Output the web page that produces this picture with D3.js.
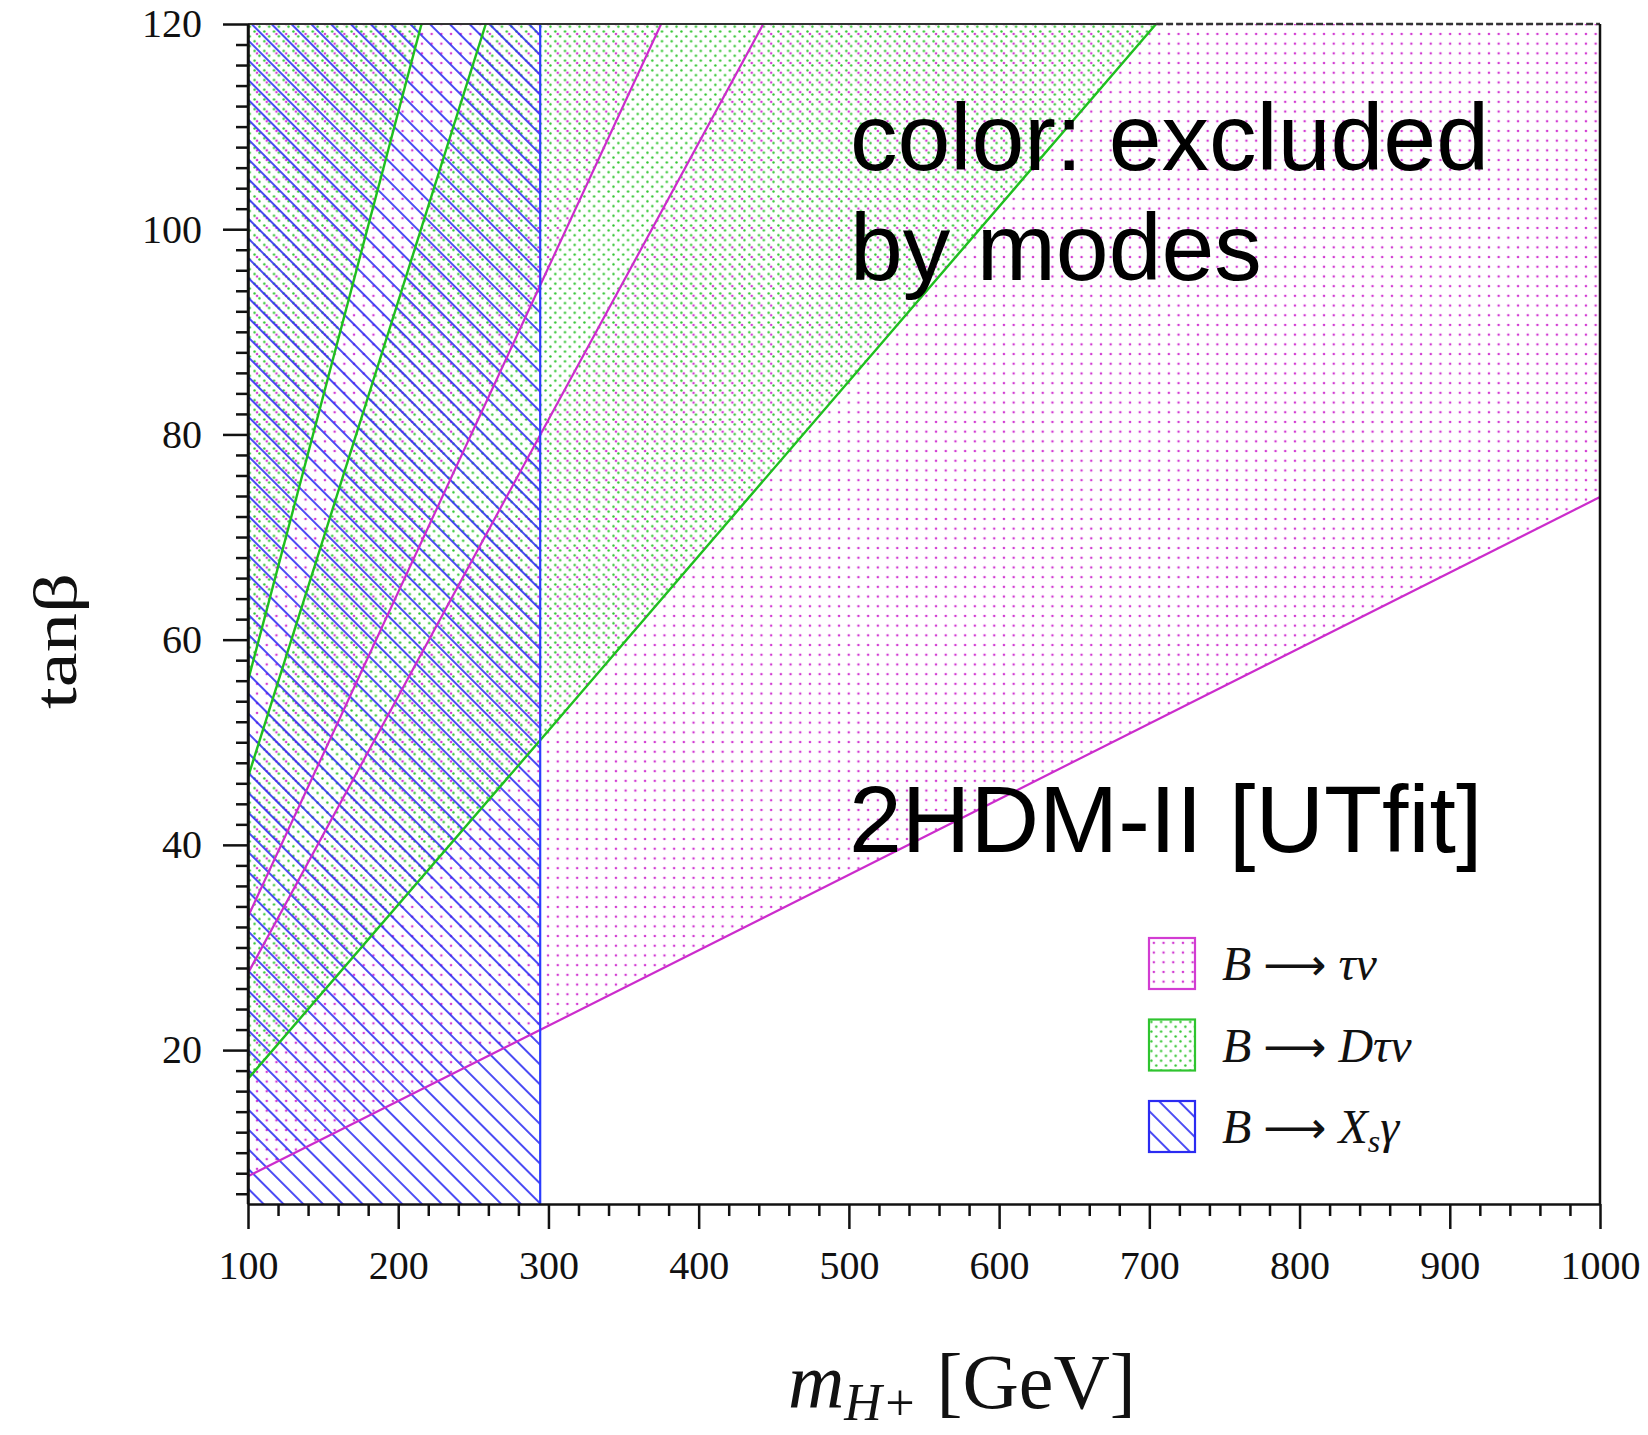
<!DOCTYPE html>
<html>
<head>
<meta charset="utf-8">
<script src="https://cdn.jsdelivr.net/npm/d3@7"></script>
<style>
  body { margin: 0; background: #fff; }
</style>
</head>
<body>
<script>
  // boundaries, points are [mH+ (GeV), tanBeta]
  var xsgLimit = 294.5;                                   // B -> Xs gamma excludes mH+ below this
  var tauNuLow = [[100, 7.7], [295, 22.0], [1000, 73.9]]; // B -> tau nu, excluded above
  var tauNuBandLow = [[100, 27.5], [443, 120]];           // allowed band inside it
  var tauNuBandHigh = [[100, 33.0], [375, 120]];
  var dTauNuLow = [[100, 17.2], [294.5, 50.2], [704.5, 120]]; // B -> D tau nu, excluded above
  var dTauNuBandLow = [[100, 46.6], [258.3, 120]];
  var dTauNuBandHigh = [[100, 56.0], [215.5, 120]];

  var xDomain = [100, 1000];
  var yDomain = [5, 120];
  var xTicks = [100, 200, 300, 400, 500, 600, 700, 800, 900, 1000];
  var yTicks = [20, 40, 60, 80, 100, 120];
  var xMinorStep = 20, yMinorStep = 2;

  var legendNames = ["tauNu", "dTauNu", "xsg"];
  var legendColors = ["#d23cd2", "#2fc42f", "#2b2bf2"];
  var legendLabels = [
    [["B", "i"], ["\u27f6", "arrow"], ["\u03c4\u03bd", "after"]],
    [["B", "i"], ["\u27f6", "arrow"], ["D\u03c4\u03bd", "after"]],
    [["B", "i"], ["\u27f6", "arrow"], ["X", "after"], ["s", "sub"], ["\u03b3", "up"]]
  ];

  var width = 1648, height = 1435;

  var svg = d3.select("body").append("svg")
    .attr("width", width)
    .attr("height", height);

  var x = d3.scaleLinear().domain(xDomain).range([248, 1600]);
  var y = d3.scaleLinear().domain(yDomain).range([1204, 24]);

  var defs = svg.append("defs");

  defs.append("clipPath").attr("id", "plot")
    .append("rect")
    .attr("x", x(xDomain[0])).attr("y", y(yDomain[1]))
    .attr("width", x(xDomain[1]) - x(xDomain[0]))
    .attr("height", y(yDomain[0]) - y(yDomain[1]));

  // fill patterns
  var pm = defs.append("pattern").attr("id", "pat-tauNu")
    .attr("patternUnits", "userSpaceOnUse").attr("width", 9.7).attr("height", 9.7);
  pm.append("circle").attr("cx", 4.85).attr("cy", 4.85).attr("r", 1.3).attr("fill", "#d23cd2");

  var pg = defs.append("pattern").attr("id", "pat-dTauNu")
    .attr("patternUnits", "userSpaceOnUse").attr("width", 9.7).attr("height", 9.7);
  pg.append("circle").attr("cx", 2.4).attr("cy", 2.4).attr("r", 1.2).attr("fill", "#2fc42f");
  pg.append("circle").attr("cx", 7.25).attr("cy", 7.25).attr("r", 1.2).attr("fill", "#2fc42f");

  var pb = defs.append("pattern").attr("id", "pat-xsg")
    .attr("patternUnits", "userSpaceOnUse").attr("width", 14).attr("height", 14)
    .attr("patternTransform", "rotate(-45)");
  pb.append("line").attr("x1", 7).attr("y1", -1).attr("x2", 7).attr("y2", 15)
    .attr("stroke", "#2b2bf2").attr("stroke-width", 1.7);

  var line = d3.line().x(function(d) { return x(d[0]); }).y(function(d) { return y(d[1]); });

  // excluded regions
  var tauNuPolys = [
    [[100, 120]].concat(tauNuBandHigh),
    tauNuLow.concat([[1000, 120]], tauNuBandLow.slice().reverse())
  ];
  var dTauNuPolys = [
    [[100, 120]].concat(dTauNuBandHigh),
    dTauNuLow.concat(dTauNuBandLow.slice().reverse())
  ];
  var xsgPoly = [[100, 5], [xsgLimit, 5], [xsgLimit, 120], [100, 120]];

  var plot = svg.append("g").attr("clip-path", "url(#plot)");

  plot.selectAll("path.tauNu").data(tauNuPolys).enter().append("path")
    .attr("d", function(d) { return line(d) + "Z"; })
    .attr("fill", "url(#pat-tauNu)");
  plot.selectAll("path.dTauNu").data(dTauNuPolys).enter().append("path")
    .attr("d", function(d) { return line(d) + "Z"; })
    .attr("fill", "url(#pat-dTauNu)");
  plot.append("path").datum(xsgPoly)
    .attr("d", function(d) { return line(d) + "Z"; })
    .attr("fill", "url(#pat-xsg)");

  // boundary lines
  [tauNuLow, tauNuBandLow, tauNuBandHigh].forEach(function(b) {
    plot.append("path").datum(b).attr("d", line)
      .attr("fill", "none").attr("stroke", "#cc2ccc").attr("stroke-width", 2.2);
  });
  [dTauNuLow, dTauNuBandLow, dTauNuBandHigh].forEach(function(b) {
    plot.append("path").datum(b).attr("d", line)
      .attr("fill", "none").attr("stroke", "#1fbf1f").attr("stroke-width", 2.4);
  });
  plot.append("line")
    .attr("x1", x(xsgLimit)).attr("x2", x(xsgLimit))
    .attr("y1", y(yDomain[0])).attr("y2", y(yDomain[1]))
    .attr("stroke", "#2a3cff").attr("stroke-width", 2.2);

  // frame: top and right
  svg.append("line")
    .attr("x1", x(100)).attr("x2", x(dTauNuLow[dTauNuLow.length - 1][0]))
    .attr("y1", y(120)).attr("y2", y(120))
    .attr("stroke", "#333").attr("stroke-width", 2);
  svg.append("line")
    .attr("x1", x(dTauNuLow[dTauNuLow.length - 1][0])).attr("x2", x(1000))
    .attr("y1", y(120)).attr("y2", y(120))
    .attr("stroke", "#333").attr("stroke-width", 2.5).attr("stroke-dasharray", "7,3");
  svg.append("line")
    .attr("x1", x(1000)).attr("x2", x(1000))
    .attr("y1", y(120)).attr("y2", y(5))
    .attr("stroke", "#111").attr("stroke-width", 2.5);

  // axes
  var xMinor = d3.range(xDomain[0], xDomain[1] + 1, xMinorStep).filter(function(v) { return v % 100 !== 0; });
  var yMinor = d3.range(6, 120, yMinorStep).filter(function(v) { return v % 20 !== 0; });

  var gxMinor = svg.append("g").attr("transform", "translate(0," + y(yDomain[0]) + ")")
    .call(d3.axisBottom(x).tickValues(xMinor).tickSize(12).tickFormat(""));
  gxMinor.select(".domain").remove();

  var gx = svg.append("g").attr("transform", "translate(0," + y(yDomain[0]) + ")")
    .call(d3.axisBottom(x).tickValues(xTicks).tickSize(25).tickSizeOuter(0).tickFormat(d3.format("d")));

  var gyMinor = svg.append("g").attr("transform", "translate(" + x(xDomain[0]) + ",0)")
    .call(d3.axisLeft(y).tickValues(yMinor).tickSize(12).tickFormat(""));
  gyMinor.select(".domain").remove();

  var gy = svg.append("g").attr("transform", "translate(" + x(xDomain[0]) + ",0)")
    .call(d3.axisLeft(y).tickValues(yTicks).tickSize(25).tickSizeOuter(0).tickPadding(21));

  [gx, gy, gxMinor, gyMinor].forEach(function(g) {
    g.selectAll("line").attr("stroke", "#111").attr("stroke-width", 2.5);
    g.select(".domain").attr("stroke", "#111").attr("stroke-width", 2.5);
  });
  // left axis runs down to the 100 tick
  svg.append("line")
    .attr("x1", x(100)).attr("x2", x(100)).attr("y1", y(120)).attr("y2", y(5))
    .attr("stroke", "#111").attr("stroke-width", 2.5);

  gx.attr("font-family", "'Liberation Serif', 'Times New Roman', serif").attr("font-size", 40);
  gx.selectAll("text").attr("y", 47).attr("dy", "0.71em").attr("fill", "#111");
  gy.attr("font-family", "'Liberation Serif', 'Times New Roman', serif").attr("font-size", 40);
  gy.selectAll("text").attr("fill", "#111");

  // axis titles
  var xt = svg.append("text")
    .attr("x", 788).attr("y", 1408)
    .attr("font-family", "'Liberation Serif', 'Times New Roman', serif")
    .attr("font-size", 78).attr("fill", "#111");
  xt.append("tspan").attr("font-style", "italic").text("m");
  xt.append("tspan").attr("font-style", "italic").attr("font-size", 52).attr("dy", 12).text("H+");
  xt.append("tspan").attr("dy", -12).text(" [GeV]");

  svg.append("text")
    .attr("transform", "translate(76,641) rotate(-90)")
    .attr("text-anchor", "middle")
    .attr("font-family", "'Liberation Serif', 'Times New Roman', serif")
    .attr("font-size", 62).attr("fill", "#111")
    .attr("textLength", 136).attr("lengthAdjust", "spacingAndGlyphs")
    .text("tan\u03b2");

  // annotations
  var note = svg.append("g")
    .attr("font-family", "'Liberation Sans', Arial, Helvetica, sans-serif")
    .attr("font-size", 95).attr("fill", "#000");
  note.append("text").attr("x", 850).attr("y", 170).text("color: excluded");
  note.append("text").attr("x", 850).attr("y", 280).text("by modes");
  note.append("text").attr("x", 849).attr("y", 852).text("2HDM-II [UTfit]");

  // legend
  var legend = svg.append("g");
  var item = legend.selectAll("g").data(legendNames).enter().append("g")
    .attr("transform", function(d, i) { return "translate(1149," + (938 + i * 81.5) + ")"; });
  item.append("rect")
    .attr("width", 46).attr("height", 51)
    .attr("fill", function(d) { return "url(#pat-" + d + ")"; })
    .attr("stroke", function(d, i) { return legendColors[i]; })
    .attr("stroke-width", 2.2);
  var lt = item.append("text")
    .attr("x", 73).attr("y", 42)
    .attr("font-family", "'Liberation Serif', 'Times New Roman', serif")
    .attr("font-size", 48).attr("fill", "#111");
  lt.each(function(d, i) {
    var t = d3.select(this);
    legendLabels[i].forEach(function(p) {
      var s = t.append("tspan").text(p[0]);
      if (p[1] === "i") s.attr("font-style", "italic");
      if (p[1] === "arrow") s.attr("font-family", "'DejaVu Sans', sans-serif").attr("font-size", 44).attr("dx", 12);
      if (p[1] === "after") s.attr("font-style", "italic").attr("dx", 12);
      if (p[1] === "sub") s.attr("font-style", "italic").attr("font-size", 32).attr("dy", 9);
      if (p[1] === "up") s.attr("font-style", "italic").attr("dy", -9);
    });
  });
</script>
</body>
</html>
